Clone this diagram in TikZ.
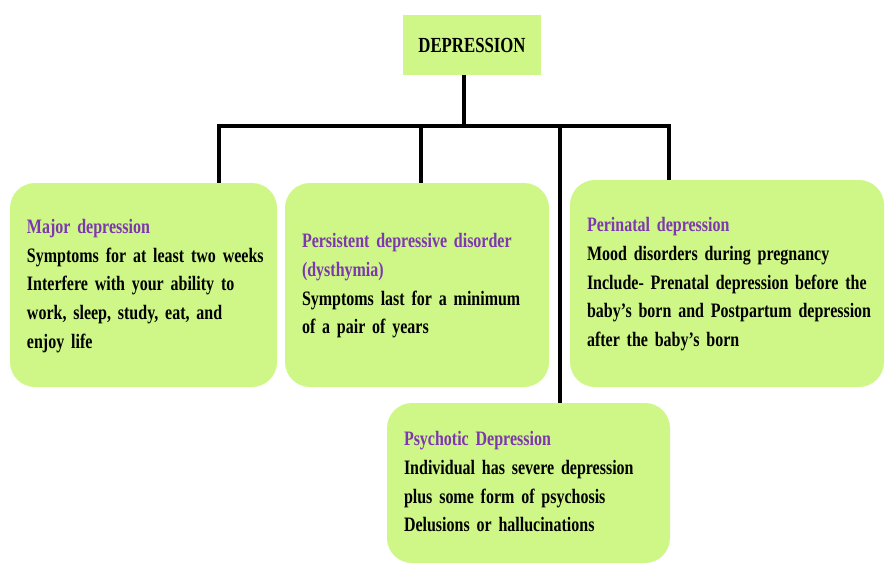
\documentclass[tikz,border=0pt]{standalone}
\usepackage{fontspec}
\setmainfont{Liberation Serif}[FakeStretch=0.78]

\definecolor{boxgreen}{RGB}{206,247,135}
\definecolor{headpurple}{RGB}{125,55,175}
\newcommand{\kindtext}[2]{\begin{tabular}{@{}l@{}}\textcolor{headpurple}{#1}\\#2\end{tabular}}

\begin{document}
\begin{tikzpicture}[x=1pt,y=-1pt]

\tikzset{kind/.style={fill=boxgreen,rounded corners=25pt,inner xsep=17pt,inner ysep=0pt,align=left,font=\fontsize{20.5}{28.7}\selectfont\bfseries},
  link/.style={line width=3.5pt}}
  \useasboundingbox (0,0) rectangle (885,565);

  \node[fill=boxgreen,minimum width=138pt,minimum height=60pt,font=\fontsize{21.5}{24}\selectfont\bfseries] (dep) at (472,45) {DEPRESSION};

  \node[kind,text width=233pt,minimum height=204pt] (major) at (143.5,285)
    {\kindtext{Major depression}{Symptoms for at least two weeks\\Interfere with your ability to\\work, sleep, study, eat, and\\enjoy life}};
  \node[kind,text width=230pt,minimum height=204pt] (pdd) at (417,285)
    {\kindtext{Persistent depressive disorder}{\textcolor{headpurple}{(dysthymia)}\\Symptoms last for a minimum\\of a pair of years}};
  \node[kind,text width=280pt,minimum height=207pt] (peri) at (727,283.5)
    {\kindtext{Perinatal depression}{Mood disorders during pregnancy\\Include- Prenatal depression before the\\baby's born and Postpartum depression\\after the baby's born}};
  \node[kind,text width=249pt,minimum height=160pt] (psy) at (528.5,483)
    {\kindtext{Psychotic Depression}{Individual has severe depression\\plus some form of psychosis\\Delusions or hallucinations}};

  % branch points on the bar
  \coordinate (hub) at (464,126);
  \coordinate (j1) at (219,126);
  \coordinate (j2) at (421,126);
  \coordinate (j3) at (560,126);
  \coordinate (j4) at (669,126);

  \draw[link] (dep.south -| hub) -- (hub);
  \draw[link] (j1 |- major.north) -- (j1) -- (j4) -- (j4 |- peri.north);
  \draw[link] (j2) -- (j2 |- pdd.north);
  \draw[link] (j3) -- (j3 |- psy.north);

\end{tikzpicture}
\end{document}
